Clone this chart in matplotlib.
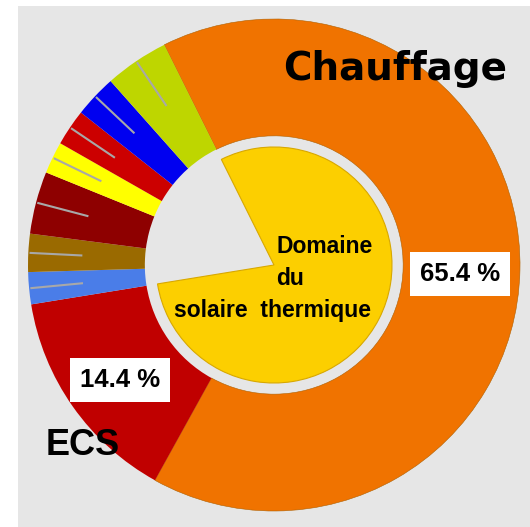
import numpy as np
import matplotlib
matplotlib.use("Agg")
import matplotlib.pyplot as plt
from matplotlib.patches import Rectangle

# ---- data ----
outer_labels = ["Chauffage", "ECS", "s1", "s2", "s3", "s4", "s5", "s6", "s7"]
outer_values = [65.4, 14.4, 2.1, 2.5, 4.1, 2.1, 2.4, 2.8, 4.2]
outer_colors = ["#F07300", "#C00000", "#4A7DE8", "#9A6A00", "#8E0000",
                "#FFFF00", "#CC0000", "#0000F0", "#BED600"]
inner_values = [79.8, 20.2]
inner_colors = ["#FCCF00", "#E6E6E6"]
pct_labels = ["65.4 %", "14.4 %"]

W, H = 530, 527
fig = plt.figure(figsize=(W / 100, H / 100), dpi=100)
fig.patch.set_facecolor("white")
ax = fig.add_axes([0, 0, 1, 1])

# grey panel
ax.add_patch(Rectangle((18, 0), W - 18, H - 6, facecolor="#E6E6E6",
                       edgecolor="none", zorder=0))

cx, cy = 274, H - 265
R = 246
start = 116.5

wedges, _ = ax.pie(outer_values, colors=outer_colors, startangle=start,
                   counterclock=False, radius=R, center=(cx, cy),
                   wedgeprops=dict(width=R * 0.475, linewidth=0.4,
                                   edgecolor="#B06000"))
for w in wedges[1:]:
    w.set_linewidth(0)

iw, _ = ax.pie(inner_values, colors=inner_colors, startangle=start,
               counterclock=False, radius=118, center=(cx, cy),
               wedgeprops=dict(linewidth=0.8, edgecolor="#D8A800"))
iw[1].set_visible(False)

# leader lines in small segments
for w in wedges[2:]:
    mid = np.deg2rad((w.theta1 + w.theta2) / 2)
    r0, r1 = 0.78 * R, 0.995 * R
    ax.plot([cx + r0 * np.cos(mid), cx + r1 * np.cos(mid)],
            [cy + r0 * np.sin(mid), cy + r1 * np.sin(mid)],
            color="#A8A8A8", lw=1.5, solid_capstyle="butt", zorder=3)

ax.set_xlim(0, W)
ax.set_ylim(0, H)
ax.set_aspect("equal", adjustable="box")
ax.axis("off")

bold = dict(fontweight="bold", color="black")
ax.text(395, H - 80, "Chauffage", family=["DejaVu Sans"], fontsize=28,
        ha="center", va="baseline", **bold)
ax.text(46, H - 455, "ECS", family=["Liberation Sans", "DejaVu Sans"],
        fontsize=26, ha="left", va="baseline", **bold)

box = dict(boxstyle="square,pad=0.37", facecolor="white", edgecolor="none")
ax.text(460, H - 274, pct_labels[0], family=["Liberation Sans", "DejaVu Sans"],
        fontsize=18.5, ha="center", va="center", bbox=box, **bold)
ax.text(120, H - 380, pct_labels[1], family=["Liberation Sans", "DejaVu Sans"],
        fontsize=18.5, ha="center", va="center", bbox=box, **bold)

fam = ["Liberation Sans", "DejaVu Sans"]
ax.text(276.5, H - 253, "Domaine", family=fam, fontsize=16.5,
        ha="left", va="baseline", **bold)
ax.text(276.5, H - 285, "du", family=fam, fontsize=16.5,
        ha="left", va="baseline", **bold)
ax.text(371, H - 316.5, "solaire  thermique", family=fam, fontsize=16.5,
        ha="right", va="baseline", **bold)

fig.savefig("out.png", dpi=100, facecolor="white")
